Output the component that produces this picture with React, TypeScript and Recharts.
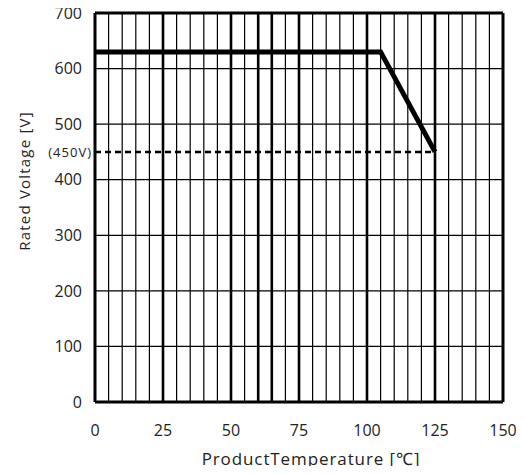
import { CartesianGrid, Label, Line, LineChart, ReferenceLine, XAxis, YAxis } from "recharts";

// derating curve
const temps = [0, 105, 125];
const volts = [630, 630, 450];

const xTicks = [0, 25, 50, 75, 100, 125, 150];
const yTicks = [0, 100, 200, 300, 400, 500, 600, 700];

// every 5 °C; some of them are drawn heavier in the original sheet
const gridXs = [5, 10, 15, 20, 25, 30, 35, 40, 45, 50, 55, 60, 65, 70, 75, 80, 85, 90, 95, 100, 105, 110, 115, 120, 125, 130, 135, 140, 145];
const heavyXs = [25, 50, 60, 65, 75, 100, 125];

const limitTemp = 125;
const limitVolt = 450;

const data = temps.map((t, i) => ({ t, v: volts[i] }));

const font = "'Open Sans', sans-serif";
const ink = "#222";

export default function App() {
  return (
    <div style={{ margin: -8, width: 524, height: 474, background: "#fff" }}>
      <LineChart width={524} height={474} data={data} margin={{ top: 13, right: 21, bottom: 0, left: 0 }}>
        <CartesianGrid vertical={false} stroke="#000" strokeWidth={1.2} />
        <XAxis
          dataKey="t"
          type="number"
          domain={[0, 150]}
          ticks={xTicks}
          height={72}
          axisLine={false}
          tickLine={false}
          tickSize={0}
          tickMargin={23}
          tick={{ fill: ink, fontSize: 16, fontFamily: font }}
        >
          <Label
            content={({ viewBox }: any) => (
              <text x={viewBox.x + viewBox.width / 2 + 12} y={viewBox.y + 63} textAnchor="middle" fill={ink} fontSize={17} letterSpacing={0.9} fontFamily={font}>
                ProductTemperature [℃]
              </text>
            )}
          />
        </XAxis>
        <YAxis
          type="number"
          domain={[0, 700]}
          ticks={yTicks}
          width={95}
          axisLine={false}
          tickLine={false}
          tickSize={0}
          tickMargin={13}
          tick={{ fill: ink, fontSize: 16, fontFamily: font }}
        >
          <Label
            content={({ viewBox }: any) => {
              const cx = 24;
              const cy = viewBox.y + 168;
              return (
                <text x={cx} y={cy} transform={`rotate(-90 ${cx} ${cy})`} textAnchor="middle" dominantBaseline="central" fill={ink} fontSize={15} letterSpacing={1.2} fontFamily={font}>
                  Rated Voltage [V]
                </text>
              );
            }}
          />
        </YAxis>
        {gridXs.map((x) => (
          <ReferenceLine key={x} x={x} stroke="#000" strokeWidth={heavyXs.includes(x) ? 2.6 : 1.2} />
        ))}
        <ReferenceLine x={0} stroke="#000" strokeWidth={3} />
        <ReferenceLine x={150} stroke="#000" strokeWidth={3} />
        <ReferenceLine y={0} stroke="#000" strokeWidth={3} />
        <ReferenceLine y={700} stroke="#000" strokeWidth={3} />
        <ReferenceLine
          segment={[
            { x: 0, y: limitVolt },
            { x: limitTemp, y: limitVolt },
          ]}
          stroke="#000"
          strokeWidth={2.5}
          strokeDasharray="6 4"
        >
          <Label value="(450V)" position="left" offset={3} fill={ink} fontSize={13} letterSpacing={1} fontFamily={font} />
        </ReferenceLine>
        <Line dataKey="v" type="linear" stroke="#000" strokeWidth={5} dot={false} activeDot={false} isAnimationActive={false} />
      </LineChart>
    </div>
  );
}
